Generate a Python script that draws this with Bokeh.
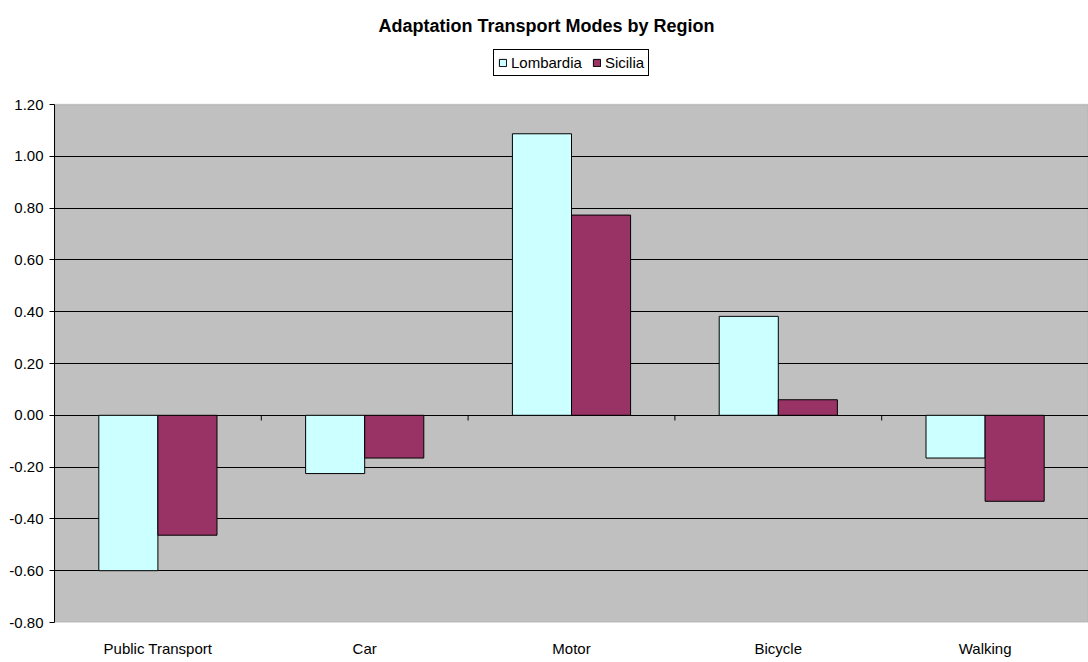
from bokeh.plotting import figure
from bokeh.models import (ColumnDataSource, FactorRange, Range1d, FixedTicker,
                          NumeralTickFormatter, Legend, LegendItem, Label, BoxAnnotation)
from bokeh.transform import dodge
from bokeh.embed import file_html
from bokeh.resources import INLINE

# ---- data ----
categories = ["Public Transport", "Car", "Motor", "Bicycle", "Walking"]
lombardia = [-0.60, -0.225, 1.087, 0.382, -0.165]
sicilia = [-0.463, -0.165, 0.773, 0.06, -0.332]
series_names = ["Lombardia", "Sicilia"]
y_ticks = [-0.8, -0.6, -0.4, -0.2, 0.0, 0.2, 0.4, 0.6, 0.8, 1.0, 1.2]
title_text = "Adaptation Transport Modes by Region"

FONT = "Liberation Sans"
colors = ["#CCFFFF", "#993366"]
bar_w = 1 / 3.5

H, W = 662, 1088
TOP_SPACE = 104          # px above plot area (title + legend)
BOTTOM = 40
plot_h = H - TOP_SPACE - BOTTOM
units_per_px = (y_ticks[-1] - y_ticks[0]) / plot_h
y_top = y_ticks[-1] + TOP_SPACE * units_per_px

src = ColumnDataSource(data=dict(cat=categories, lom=lombardia, sic=sicilia))
bsrc = ColumnDataSource(data=dict(cat=categories[1:]))

p = figure(width=W, height=H, output_backend="svg", toolbar_location=None,
           x_range=FactorRange(factors=categories, range_padding=0),
           y_range=Range1d(y_ticks[0], y_top),
           min_border_left=54, min_border_right=0, min_border_top=0,
           min_border_bottom=BOTTOM)

p.background_fill_color = "white"
p.border_fill_color = "white"
p.outline_line_color = None

# plot area (gray) bounded by the value range
area = BoxAnnotation(bottom=y_ticks[0], top=y_ticks[-1], fill_color="#C0C0C0",
                     fill_alpha=1, line_color="#808080", line_width=1.5, level="image")
p.add_layout(area)

# bars
r1 = p.vbar(x=dodge("cat", -bar_w / 2, range=p.x_range), top="lom", bottom=0,
            width=bar_w, source=src, fill_color=colors[0], line_color="black",
            line_width=1)
r2 = p.vbar(x=dodge("cat", bar_w / 2, range=p.x_range), top="sic", bottom=0,
            width=bar_w, source=src, fill_color=colors[1], line_color="black",
            line_width=1)

# category boundary ticks on the zero line
p.segment(x0=dodge("cat", -0.5, range=p.x_range), x1=dodge("cat", -0.5, range=p.x_range),
          y0=0, y1=-0.02, source=bsrc, line_color="black", line_width=1)

# grids
p.xgrid.visible = False
p.ygrid.ticker = FixedTicker(ticks=y_ticks[1:-1])
p.ygrid.grid_line_color = "black"
p.ygrid.grid_line_width = 1

# y axis
p.yaxis.ticker = FixedTicker(ticks=y_ticks)
p.yaxis.bounds = (y_ticks[0], y_ticks[-1])
p.yaxis.formatter = NumeralTickFormatter(format="0.00")
p.yaxis.major_label_text_font = FONT
p.yaxis.major_label_text_font_size = "15px"
p.yaxis.major_label_text_color = "black"
p.yaxis.axis_line_color = "black"
p.yaxis.major_tick_line_color = "black"
p.yaxis.major_tick_out = 5
p.yaxis.major_tick_in = 0
p.yaxis.minor_tick_line_color = None
p.yaxis.major_label_standoff = 6

# x axis
p.xaxis.major_label_text_font = FONT
p.xaxis.major_label_text_font_size = "15px"
p.xaxis.major_label_text_color = "black"
p.xaxis.axis_line_color = None
p.xaxis.major_tick_line_color = None
p.xaxis.major_tick_out = 0
p.xaxis.major_label_standoff = 17

# legend
frame_h = H - BOTTOM
legend = Legend(items=[LegendItem(label=series_names[0], renderers=[r1]),
                       LegendItem(label=series_names[1], renderers=[r2])],
                orientation="horizontal", location=(439, frame_h - 76),
                label_text_font=FONT, label_text_font_size="15px",
                label_text_color="black",
                glyph_width=9, glyph_height=9, label_standoff=4, spacing=10,
                padding=4, margin=0, label_height=16,
                border_line_color="black", border_line_width=1, border_line_alpha=1,
                background_fill_color="white", background_fill_alpha=1)
p.add_layout(legend, "center")

# title
p.add_layout(Label(x=324, y=frame_h - 25, x_units="screen", y_units="screen",
                   text=title_text, text_font=FONT, text_font_size="18px",
                   text_font_style="bold", text_align="left",
                   text_baseline="alphabetic", text_color="black"))

open("out.html", "w").write(file_html(p, INLINE))
